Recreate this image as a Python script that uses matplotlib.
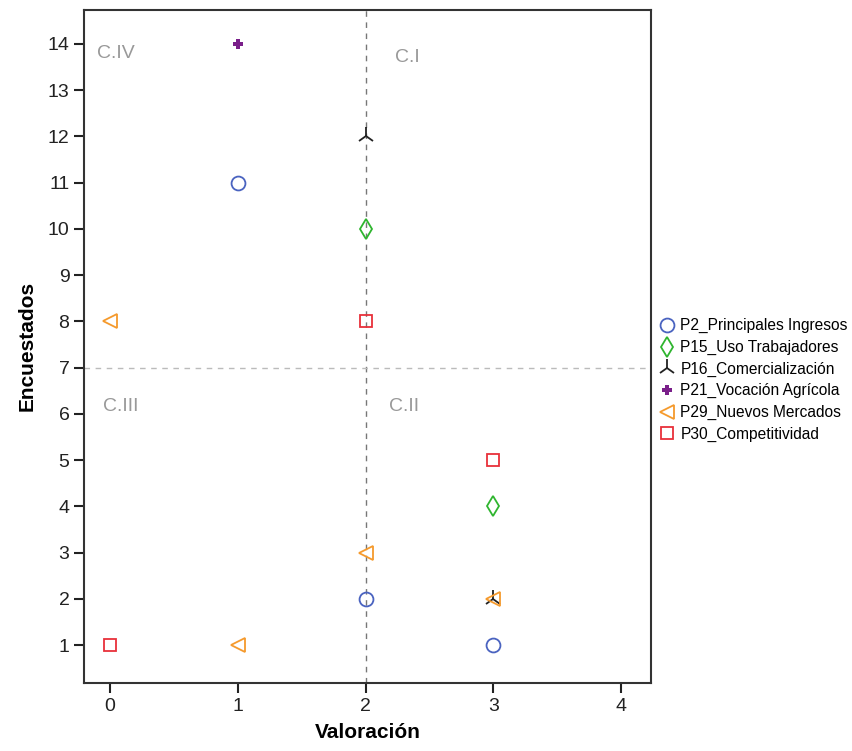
import matplotlib
matplotlib.use("Agg")
import matplotlib.pyplot as plt

plt.rcParams['font.family'] = ['Liberation Sans', 'DejaVu Sans']

series_names = ["P2_Principales Ingresos", "P15_Uso Trabajadores", "P16_Comercialización",
                "P21_Vocación Agrícola", "P29_Nuevos Mercados", "P30_Competitividad"]
p2_x = [1, 2, 3];    p2_y = [11, 2, 1]
p15_x = [2, 3];      p15_y = [10, 4]
p16_x = [2, 3];      p16_y = [12, 2]
p21_x = [1];         p21_y = [14]
p29_x = [0, 2, 1, 3]; p29_y = [8, 3, 1, 2]
p30_x = [2, 3, 0];   p30_y = [8, 5, 1]

xticks = [0, 1, 2, 3, 4]
yticks = list(range(1, 15))
quadrants = ["C.IV", "C.I", "C.III", "C.II"]

fig = plt.figure(figsize=(8.53, 7.51), dpi=100)
ax = fig.add_axes([0.0985, 0.0905, 0.6645, 0.8965])

ax.axvline(2, color='#777777', ls=(0, (4, 4)), lw=1.0, zorder=1)
ax.axhline(7, color='#bbbbbb', ls=(0, (4, 4)), lw=1.0, zorder=1)

styles = [
    dict(marker='o', mfc='none', mec='#4a63c0', ms=10, mew=1.3),
    dict(marker='d', mfc='none', mec='#2fb52f', ms=10, mew=1.3),
    dict(marker='2', color='#222222', ms=13, mew=1.3),
    dict(marker='P', color='#7a1f8a', ms=7, mew=0),
    dict(marker='<', mfc='none', mec='#f59a2c', ms=10, mew=1.3),
    dict(marker='s', mfc='none', mec='#e8303a', ms=8, mew=1.3),
]
data = [(p2_x, p2_y), (p15_x, p15_y), (p16_x, p16_y), (p21_x, p21_y), (p29_x, p29_y), (p30_x, p30_y)]
for (xs, ys), name, st in zip(data, series_names, styles):
    ax.plot(xs, ys, ls='none', label=name, zorder=3, **st)

qx = [-0.1, 2.23, -0.05, 2.18]
qy = [13.8, 13.7, 6.15, 6.15]
for t, x, y in zip(quadrants, qx, qy):
    ax.text(x, y, t, color='#999999', fontsize=14, va='center', ha='left')

ax.set_xlim(-0.2, 4.23)
ax.set_ylim(0.18, 14.74)
ax.set_xticks(xticks)
ax.set_yticks(yticks)
ax.tick_params(direction='out', length=7, width=1.5, labelsize=14, colors='#222222')
for s in ax.spines.values():
    s.set_linewidth(1.5)
    s.set_color('#333333')
ax.set_xlabel('Valoración', fontsize=15, fontweight='bold', labelpad=6)
ax.set_ylabel('Encuestados', fontsize=15, fontweight='bold', labelpad=8)

leg = ax.legend(loc='center left', bbox_to_anchor=(1.0, 0.45), frameon=False,
                fontsize=11.2, handletextpad=0.3, handlelength=1.1, labelspacing=0.42,
                borderaxespad=0.1)

fig.savefig('out.png', dpi=100)
